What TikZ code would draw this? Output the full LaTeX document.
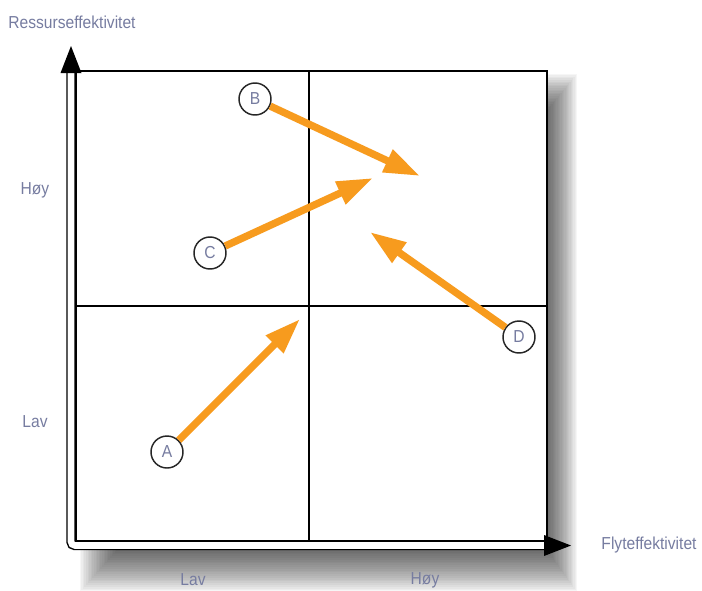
\documentclass[tikz,border=0pt]{standalone}
\usepackage{fontspec}
\setmainfont{Liberation Sans}[FakeStretch=0.9]
\usetikzlibrary{positioning, arrows.meta}
\definecolor{moveorange}{RGB}{247,155,30}
\definecolor{labelgray}{RGB}{118,124,160}

\begin{document}
\begin{tikzpicture}[x=0.75pt, y=-0.75pt,
    axislabel/.style={text=labelgray, font=\fontsize{13}{15}\selectfont},
    unit/.style={circle, draw=black!85, line width=1.1pt, fill=white,
        minimum size=24pt, inner sep=0pt, text=labelgray,
        font=\fontsize{13}{15}\selectfont},
    move/.style={draw=moveorange, line width=5.5pt,
        -{Triangle[length=27pt, width=17.5pt]}}]
    \useasboundingbox (0,0) rectangle (702,590);

    % Soft shadow behind the matrix
    \foreach \k in {0,...,24}
        \fill[black, opacity=0.035]
            (118-1.6*\k, 112-1.6*\k) rectangle (546+1.3*\k, 549+1.8*\k);
    \fill[white] (60,40) rectangle (547,550);

    % Axes (double lines with solid heads)
    \draw[double=white, double distance=4.9pt, line width=1.1pt, rounded corners=3pt]
        (71,72) -- (71,545.5) -- (545,545.5);
    \fill (71,46) -- (81.5,73) -- (60.5,73) -- cycle;
    \fill (571,545.5) -- (544,535) -- (544,556) -- cycle;

    % Matrix with four quadrants
    \draw[line width=1.5pt] (75.5,71) rectangle (547,541);
    \draw[line width=1.8pt] (309,71) -- (309,541);
    \draw[line width=1.8pt] (75.5,306) -- (547,306);

    % Axis labels
    \node[axislabel] (ytitle) at (72,22) {Ressurseffektivitet};
    \node[axislabel] (xtitle) at (649,545) {Flyteffektivitet};
    \node[axislabel] (yhigh) at (35,190) {Høy};
    \node[axislabel] (ylow) at (35,422) {Lav};
    \node[axislabel] (xlow) at (193,580) {Lav};
    \node[axislabel] (xhigh) at (425,580) {Høy};

    % Units and their moves
    \node[unit] (A) at (167,452) {A};
    \node[unit] (B) at (255,99) {B};
    \node[unit] (C) at (210,253) {C};
    \node[unit] (D) at (519,337) {D};
    \coordinate (tipA) at (300,319);
    \coordinate (tipB) at (420,176);
    \coordinate (tipC) at (373,178);
    \coordinate (tipD) at (370,232);

    \draw[move] (A) -- (tipA);
    \draw[move] (B) -- (tipB);
    \draw[move] (C) -- (tipC);
    \draw[move] (D) -- (tipD);
\end{tikzpicture}
\end{document}
